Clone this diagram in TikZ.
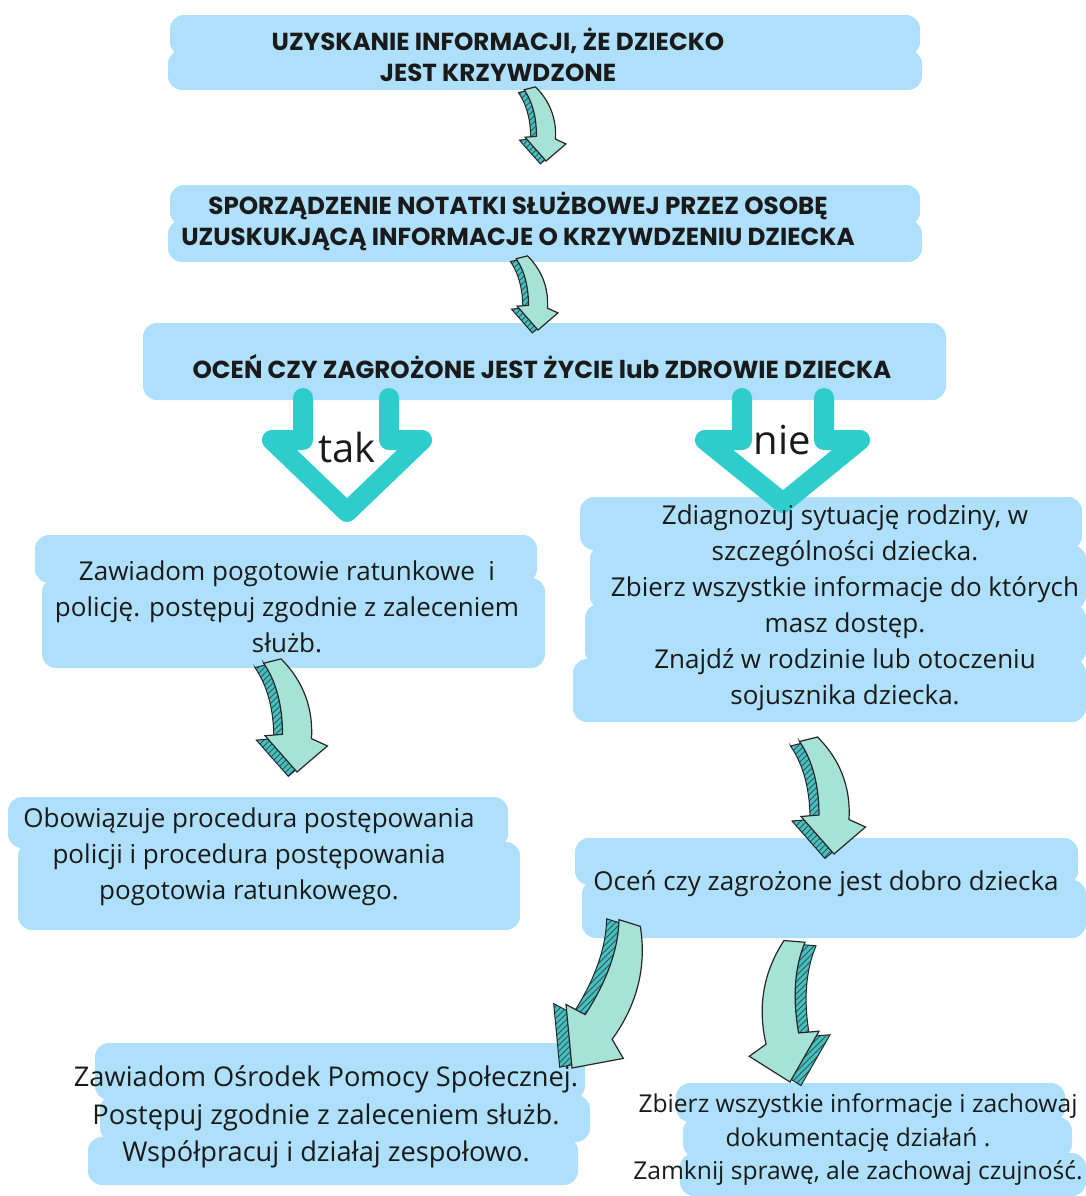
\documentclass[tikz,border=0pt]{standalone}
\usepackage{fontspec}
\setmainfont{Open Sans}
\newfontfamily\headfont{Poppins}
\usetikzlibrary{patterns}

\definecolor{boxblue}{RGB}{174,224,252}
\definecolor{vteal}{RGB}{46,205,204}
\definecolor{sideteal}{RGB}{62,196,196}
\definecolor{faceteal}{RGB}{166,226,214}
\definecolor{inkgray}{RGB}{26,26,26}

% path of one bent arrow, tip at the origin, pointing down (pixel units)
\newcommand{\arrowpath}{(-23,-75) -- (-11,-78) .. controls (7,-60) and (11,-40) .. (10,-23) -- (21,-18) -- (0,0) -- (-22,-25) -- (-10,-26) .. controls (-10,-45) and (-14,-62) .. cycle}

\tikzset{
  brush/.style={fill=boxblue, rounded corners=7pt},
  headtxt/.style={font=\headfont\bfseries\fontsize{12.3}{15.5}\selectfont, text=inkgray, align=center},
  txt/.style={font=\fontsize{13}{18}\selectfont, text=inkgray, align=center},
  vshape/.style={draw=vteal, line width=10pt, line cap=round, line join=round},
  bentarrow/.pic={
    % hatched side
    \fill[sideteal, shift={(-6,3)}] \arrowpath;
    \path[pattern=north east lines, pattern color=black!70, shift={(-6,3)}] \arrowpath;
    \draw[black!85, line width=0.5pt, shift={(-6,3)}] \arrowpath;
    % front face
    \filldraw[fill=faceteal, draw=black!85, line width=0.6pt] \arrowpath;
  }
}

\begin{document}
\begin{tikzpicture}[x=0.5pt, y=-0.5pt]
  \useasboundingbox (0,0) rectangle (1086,1196);

  % boxes, drawn as brush strips
  \foreach \xa/\ya/\xb/\yb in {
      170/15/920/56, 168/50/922/90,
      170/185/920/226, 168/220/922/262,
      143/323/946/400,
      35/535/537/583, 42/578/545/668,
      580/497/1082/550, 590/545/1086/610, 585/604/1086/665, 573/659/1086/722,
      8/797/508/848, 18/842/520/930,
      575/838/1078/885, 582/880/1086/938,
      95/1043/585/1100, 100/1095/590/1142, 88/1137/578/1185,
      676/1083/1065/1122, 683/1117/1072/1158, 680/1153/1086/1196}
    \fill[brush] (\xa,\ya) rectangle (\xb,\yb);

  % tak / nie
  \draw[vshape] (303,398) -- (303,440) -- (272,440) -- (347,512) -- (422,440) -- (389,440) -- (389,398);
  \draw[vshape] (742,398) -- (742,440) -- (705,440) -- (783,503) -- (860,440) -- (824,440) -- (824,398);
  \node[font=\fontsize{20}{24}\selectfont, text=inkgray] (tak) at (347,447) {tak};
  \node[font=\fontsize{20}{24}\selectfont, text=inkgray] (nie) at (782,440) {nie};

  % bent arrows
  \coordinate (a1) at (546,161);
  \coordinate (a2) at (538,330);
  \coordinate (a3) at (297,772);
  \coordinate (a4) at (834,854);
  \coordinate (a5) at (572,1068);
  \coordinate (a6) at (790,1082);
  \pic[scale=0.95] at (a1) {bentarrow};
  \pic[scale=0.95] at (a2) {bentarrow};
  \pic[scale=1.45] at (a3) {bentarrow};
  \pic[scale=1.5] at (a4) {bentarrow};
  \pic[rotate=-33, xscale=1.8, yscale=2] at (a5) {bentarrow};
  \pic[rotate=10, xscale=-1.7, yscale=1.8] at (a6) {bentarrow};

  % texts
  \node[headtxt] (t1) at (498,55) {UZYSKANIE INFORMACJI, ŻE DZIECKO\\JEST KRZYWDZONE};
  \node[headtxt] (t2) at (518,221) {SPORZĄDZENIE NOTATKI SŁUŻBOWEJ PRZEZ OSOBĘ\\UZUSKUKJĄCĄ INFORMACJE O KRZYWDZENIU DZIECKA};
  \node[headtxt] (t3) at (542,367) {OCEŃ CZY ZAGROŻONE JEST ŻYCIE lub ZDROWIE DZIECKA};
  \node[txt] (t4) at (287,607) {Zawiadom pogotowie ratunkowe~~i\\policję. postępuj zgodnie z zaleceniem\\służb.};
  \node[txt] (t5) at (845,608) {Zdiagnozuj sytuację rodziny, w\\szczególności dziecka.\\Zbierz wszystkie informacje do których\\masz dostęp.\\Znajdź w rodzinie lub otoczeniu\\sojusznika dziecka.};
  \node[txt] (t6) at (249,857) {Obowiązuje procedura postępowania\\policji i procedura postępowania\\pogotowia ratunkowego.};
  \node[txt] (t7) at (826,884) {Oceń czy zagrożone jest dobro dziecka};
  \node[txt, font=\fontsize{13.6}{18.75}\selectfont] (t8) at (326,1117) {Zawiadom Ośrodek Pomocy Społecznej.\\Postępuj zgodnie z zaleceniem służb.\\Współpracuj i działaj zespołowo.};
  \node[txt, font=\fontsize{12.3}{16.75}\selectfont] (t9) at (858,1140) {Zbierz wszystkie informacje i zachowaj\\dokumentację działań .\\Zamknij sprawę, ale zachowaj czujność.};
\end{tikzpicture}
\end{document}
